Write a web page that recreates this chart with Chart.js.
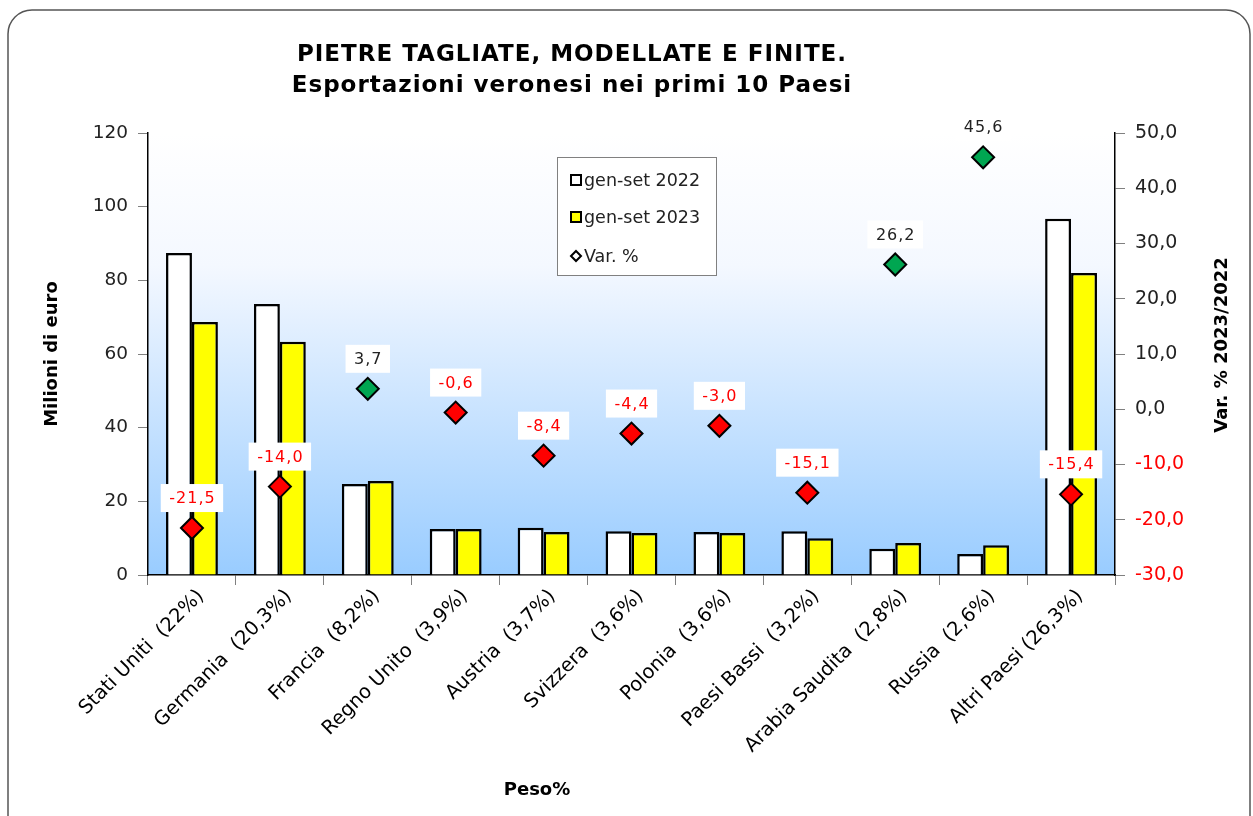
<!DOCTYPE html>
<html lang="it">
<head>
<meta charset="utf-8">
<title>Pietre tagliate - esportazioni veronesi</title>
<script src="https://cdn.jsdelivr.net/npm/chart.js@4.4.1/dist/chart.umd.min.js"></script>
<style>
  html, body { margin: 0; padding: 0; background: #fff; }
  #wrap { position: relative; width: 1253px; height: 816px; }
</style>
</head>
<body>
<div id="wrap"><canvas id="chart" width="1253" height="816"></canvas></div>
<script>
  // --- data ---
  const paesi = [
    'Stati Uniti  (22%)', 'Germania  (20,3%)', 'Francia  (8,2%)', 'Regno Unito  (3,9%)',
    'Austria  (3,7%)', 'Svizzera  (3,6%)', 'Polonia  (3,6%)', 'Paesi Bassi  (3,2%)',
    'Arabia Saudita  (2,8%)', 'Russia  (2,6%)', 'Altri Paesi (26,3%)'
  ];
  const export2022 = [87.4, 73.6, 24.7, 12.5, 12.8, 11.9, 11.7, 11.9, 7.1, 5.7, 96.7];
  const export2023 = [68.7, 63.3, 25.5, 12.5, 11.7, 11.4, 11.4, 10.0, 8.7, 8.1, 82.0];
  const variazione = [-21.5, -14.0, 3.7, -0.6, -8.4, -4.4, -3.0, -15.1, 26.2, 45.6, -15.4];
  const titolo = ['PIETRE TAGLIATE, MODELLATE E FINITE.', 'Esportazioni veronesi nei primi 10 Paesi'];
  const titoloX = 'Peso%';
  const titoloY2 = 'Var. % 2023/2022';

  const FONT = '"DejaVu Sans", Verdana, sans-serif';
  Chart.defaults.font.family = FONT;
  Chart.defaults.color = '#222';

  const fmt = v => v.toFixed(1).replace('.', ',');

  // plot background: white at the top fading to light blue
  const plotBackground = {
    id: 'plotBackground',
    beforeDraw(chart) {
      const { ctx, chartArea: a } = chart;
      const g = ctx.createLinearGradient(0, a.top, 0, a.bottom);
      g.addColorStop(0, '#ffffff');
      g.addColorStop(0.3, '#f4f8ff');
      g.addColorStop(1, '#99ccff');
      ctx.save();
      ctx.fillStyle = g;
      ctx.fillRect(a.left, a.top, a.right - a.left, a.bottom - a.top);
      ctx.restore();
    }
  };

  // rounded frame, titles, value labels and legend box
  const decorations = {
    id: 'decorations',
    afterDraw(chart) {
      const ctx = chart.ctx;
      ctx.save();

      // outer frame
      ctx.strokeStyle = '#555';
      ctx.lineWidth = 1.5;
      ctx.beginPath();
      ctx.roundRect(8, 10, 1242, 830, 24);
      ctx.stroke();

      // title
      ctx.fillStyle = '#000';
      ctx.textAlign = 'center';
      ctx.textBaseline = 'middle';
      ctx.font = 'bold 23px ' + FONT;
      ctx.letterSpacing = '1px';
      ctx.fillText(titolo[0], 572, 55);
      ctx.fillText(titolo[1], 572, 86);
      ctx.letterSpacing = '0px';

      // axis titles drawn by hand (x title off-centre, right title reads upwards)
      ctx.font = 'bold 18px ' + FONT;
      ctx.fillText(titoloX, 537, 790);
      ctx.save();
      ctx.translate(1222, 345);
      ctx.rotate(-Math.PI / 2);
      ctx.fillText(titoloY2, 0, 0);
      ctx.restore();

      // labels over the diamonds
      const meta = chart.getDatasetMeta(2);
      ctx.font = '16px ' + FONT;
      ctx.letterSpacing = '1px';
      meta.data.forEach((pt, i) => {
        const v = variazione[i];
        const txt = fmt(v);
        const w = ctx.measureText(txt).width + 16;
        const cy = pt.y - 30;
        ctx.fillStyle = '#fff';
        ctx.fillRect(pt.x - w / 2, cy - 14, w, 28);
        ctx.fillStyle = v < 0 ? '#ff0000' : '#222';
        ctx.fillText(txt, pt.x + 0.5, cy + 1);
      });
      ctx.letterSpacing = '0px';

      // legend
      const lx = 557, ly = 157, lw = 159, lh = 118;
      ctx.fillStyle = '#fff';
      ctx.fillRect(lx, ly, lw, lh);
      ctx.strokeStyle = '#808080';
      ctx.lineWidth = 1;
      ctx.strokeRect(lx + 0.5, ly + 0.5, lw, lh);
      ctx.textAlign = 'left';
      ctx.font = '17.5px ' + FONT;
      const rows = [
        { label: chart.data.datasets[0].label, fill: '#ffffff', y: ly + 23 },
        { label: chart.data.datasets[1].label, fill: '#ffff00', y: ly + 60 }
      ];
      rows.forEach(r => {
        ctx.fillStyle = r.fill;
        ctx.strokeStyle = '#000';
        ctx.lineWidth = 2;
        ctx.fillRect(lx + 14, r.y - 5, 10, 10);
        ctx.strokeRect(lx + 14, r.y - 5, 10, 10);
        ctx.fillStyle = '#222';
        ctx.fillText(r.label, lx + 27, r.y + 1);
      });
      const dy = ly + 99;
      ctx.beginPath();
      ctx.moveTo(lx + 19, dy - 5);
      ctx.lineTo(lx + 24, dy);
      ctx.lineTo(lx + 19, dy + 5);
      ctx.lineTo(lx + 14, dy);
      ctx.closePath();
      ctx.fillStyle = '#fff';
      ctx.fill();
      ctx.lineWidth = 2;
      ctx.stroke();
      ctx.fillStyle = '#222';
      ctx.fillText(chart.data.datasets[2].label, lx + 27, dy + 1);

      ctx.restore();
    }
  };

  new Chart(document.getElementById('chart'), {
    data: {
      labels: paesi,
      datasets: [
        {
          type: 'bar', label: 'gen-set 2022', data: export2022, yAxisID: 'y',
          backgroundColor: '#ffffff', borderColor: '#000', borderWidth: 2.5,
          categoryPercentage: 0.59, barPercentage: 1, order: 2
        },
        {
          type: 'bar', label: 'gen-set 2023', data: export2023, yAxisID: 'y',
          backgroundColor: '#ffff00', borderColor: '#000', borderWidth: 2.5,
          categoryPercentage: 0.59, barPercentage: 1, order: 2
        },
        {
          type: 'line', label: 'Var. %', data: variazione, yAxisID: 'y1',
          showLine: false, pointStyle: 'rectRot', pointRadius: 11, pointHoverRadius: 11,
          pointBackgroundColor: variazione.map(v => v < 0 ? '#ff0000' : '#00a651'),
          pointBorderColor: '#000', pointBorderWidth: 2, order: 0
        }
      ]
    },
    options: {
      responsive: false,
      animation: false,
      layout: { padding: { top: 133, left: 36, right: 18, bottom: 12 } },
      plugins: { legend: { display: false }, tooltip: { enabled: false }, title: { display: false } },
      scales: {
        x: {
          grid: { offset: true, drawOnChartArea: false, tickLength: 10, color: '#808080' },
          border: { color: '#000', width: 1.5 },
          ticks: { color: '#000', font: { size: 19.5 }, minRotation: 45, maxRotation: 45, padding: 0, labelOffset: 9 },
          afterFit: s => { s.height = 229; }
        },
        y: {
          position: 'left', min: 0, max: 120,
          ticks: { stepSize: 20, color: '#222', font: { size: 18.5 }, padding: 10 },
          grid: { drawOnChartArea: false, tickLength: 10, color: '#808080' },
          border: { color: '#000', width: 1.5 },
          title: { display: true, text: 'Milioni di euro', color: '#000', font: { size: 18, weight: 'bold' }, padding: { top: 6, bottom: 0 } },
          afterFit: s => { s.width = 112; }
        },
        y1: {
          position: 'right', min: -30, max: 50,
          ticks: {
            stepSize: 10, font: { size: 19 }, padding: 10,
            color: c => c.tick && c.tick.value < 0 ? '#ff0000' : '#222',
            callback: v => fmt(v)
          },
          grid: { drawOnChartArea: false, tickLength: 10, color: '#808080' },
          border: { color: '#000', width: 1.5 },
          afterFit: s => { s.width = 120; }
        }
      }
    },
    plugins: [plotBackground, decorations]
  });
</script>
</body>
</html>
